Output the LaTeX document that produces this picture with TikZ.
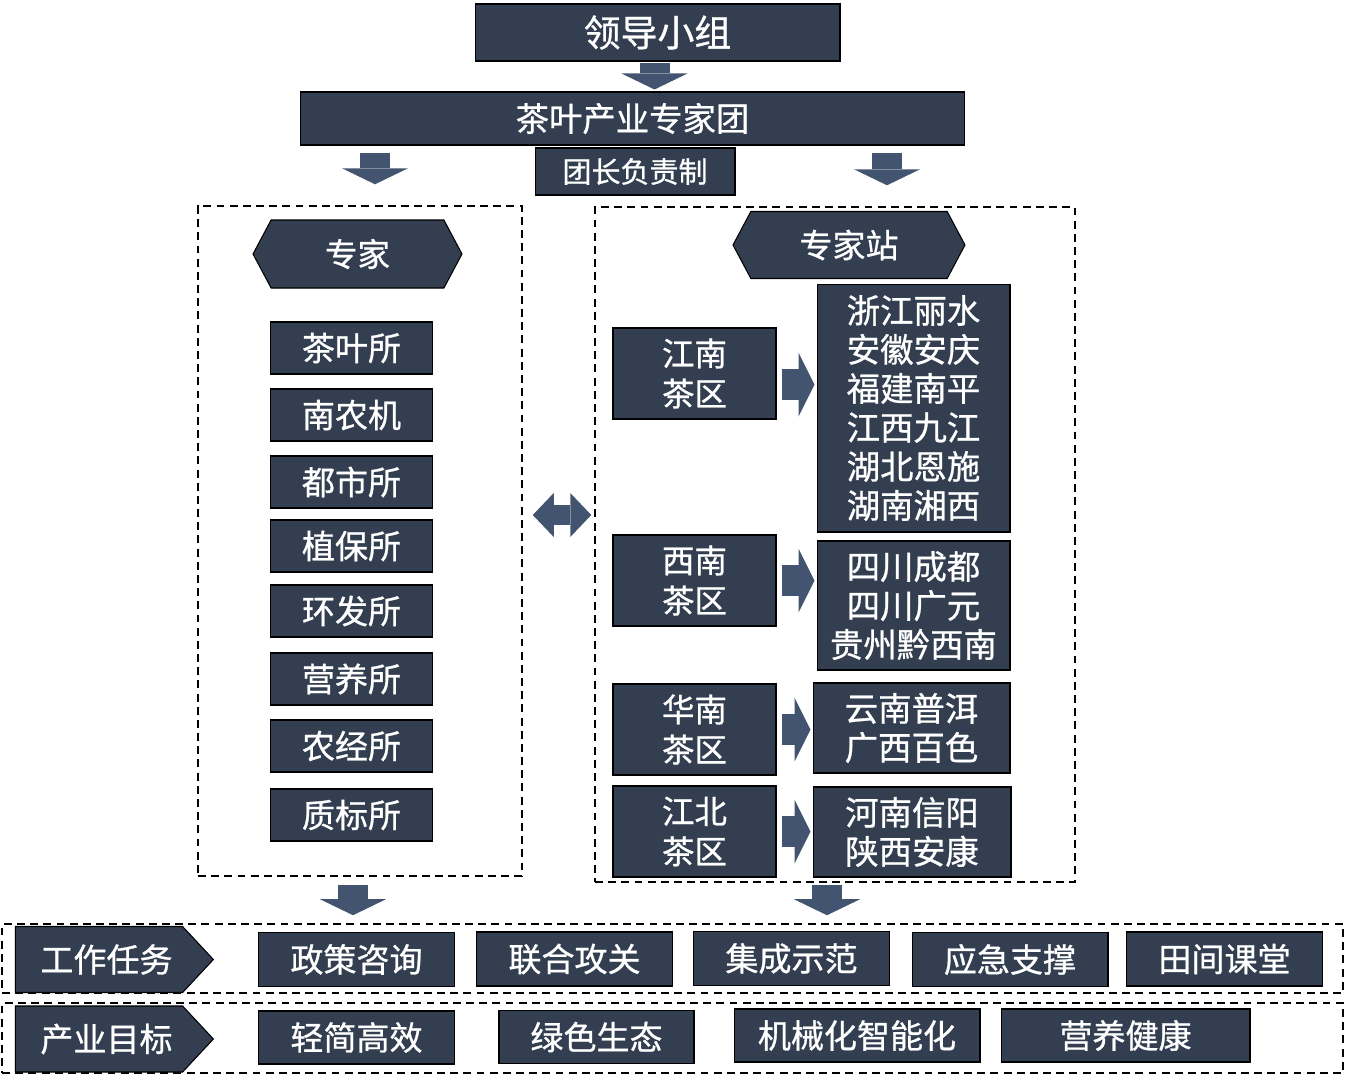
\documentclass[tikz,border=0pt]{standalone}
\usepackage{fontspec}
\setmainfont{Noto Sans CJK SC}[FakeBold=0.8]
\usepackage{xcolor}
\usepackage{tikz}
\usetikzlibrary{positioning, shapes.symbols, arrows.meta, calc}
\definecolor{teaNavy}{HTML}{333F50}
\definecolor{teaArrow}{HTML}{42546F}
\tikzset{
  darkbox/.style={
    rectangle, draw=black, line width=0.6pt,
    fill=teaNavy, text=white,
    inner sep=2pt, align=center
  },
  unitbox/.style={
    darkbox, minimum width=3.24cm, minimum height=1.04cm,
    font=\fontsize{18.8pt}{22pt}\selectfont
  },
  areabox/.style={
    darkbox, minimum width=3.26cm, minimum height=1.82cm,
    font=\fontsize{18.5pt}{22.8pt}\selectfont
  },
  sitebox/.style={
    darkbox, font=\fontsize{19pt}{22.2pt}\selectfont
  },
  taskbox/.style={
    darkbox, minimum width=3.92cm, minimum height=1.08cm,
    font=\fontsize{18.8pt}{22pt}\selectfont
  },
  hexbox/.style={
    darkbox, signal, signal to=west and east, signal from=nowhere,
    signal pointer angle=124,
    font=\fontsize{18.5pt}{22pt}\selectfont
  },
  tagbox/.style={
    darkbox, signal, signal to=east, signal from=nowhere,
    signal pointer angle=94, minimum width=3.96cm, minimum height=1.32cm,
    font=\fontsize{18.8pt}{22pt}\selectfont
  },
  dashframe/.style={
    draw=black, line width=0.9pt, dash pattern=on 4.5pt off 3pt
  },
  blockdown/.style={
    teaArrow, line width=0.6cm,
    -{Triangle[width=1.32cm, length=0.32cm, line width=0pt]}
  },
  blockright/.style={
    teaArrow, line width=0.62cm,
    -{Triangle[width=1.28cm, length=0.32cm, line width=0pt]}
  },
  blockboth/.style={
    teaArrow, line width=0.4cm,
    {Triangle[width=0.88cm, length=0.42cm, line width=0pt]}-{Triangle[width=0.88cm, length=0.42cm, line width=0pt]}
  }
}

\begin{document}
\begin{tikzpicture}[x=0.02cm, y=-0.02cm]
  \useasboundingbox (0,0) rectangle (1345,1079);
  % top of the chart
  \node[darkbox, minimum width=7.3cm, minimum height=1.14cm, font=\fontsize{21pt}{25pt}\selectfont] (lead) at (657.5,32.5) {领导小组};
  \node[darkbox, minimum width=13.3cm, minimum height=1.06cm, font=\fontsize{19pt}{23pt}\selectfont] (team) at (632.5,118.5) {茶叶产业专家团};
  \node[darkbox, minimum width=4cm, minimum height=0.94cm, font=\fontsize{16.5pt}{20pt}\selectfont] (chief) at (635,171.5) {团长负责制};
  \draw[blockdown, shorten <=0.02cm, shorten >=0.04cm] ($(lead.south)+(-3,0)$) -- ($(lead.south |- team.north)+(-3,0)$);

  % the two dashed groups
  \node[dashframe, minimum width=6.48cm, minimum height=13.4cm] (expfrm) at (360,541) {};
  \node[dashframe, minimum width=9.6cm, minimum height=13.5cm] (stafrm) at (835,544.5) {};
  \draw[blockdown, shorten <=0.14cm, shorten >=0.42cm] ($(team.south -| expfrm.north)+(15,0)$) -- ($(expfrm.north)+(15,0)$);
  \draw[blockdown, shorten <=0.14cm, shorten >=0.42cm] ($(team.south -| stafrm.north)+(52,0)$) -- ($(stafrm.north)+(52,0)$);
  \draw[blockboth, shorten <=0.2cm, shorten >=0.06cm] (expfrm.east |- 0,515) -- (stafrm.west |- 0,515);

  % experts
  \node[hexbox, minimum width=4.18cm, minimum height=1.36cm] (expert) at (357.5,254) {专家};
  \foreach \nm/\yy/\txt in {u1/348/茶叶所, u2/415/南农机, u3/482/都市所, u4/546/植保所,
                             u5/611/环发所, u6/679/营养所, u7/746/农经所, u8/815/质标所} {
    \node[unitbox] (\nm) at (351.5,\yy) {\txt};
  }

  % stations
  \node[hexbox, minimum width=4.64cm, minimum height=1.34cm, font=\fontsize{18.8pt}{22pt}\selectfont] (station) at (849,245) {专家站};
  \node[areabox] (jn) at (694.5,373.5) {江南\\茶区};
  \node[areabox] (xn) at (694.5,580.5) {西南\\茶区};
  \node[areabox] (hn) at (694.5,729.5) {华南\\茶区};
  \node[areabox] (jb) at (694.5,831.5) {江北\\茶区};
  \node[sitebox, minimum width=3.86cm, minimum height=4.96cm] (jnl) at (913.5,408) {浙江丽水\\安徽安庆\\福建南平\\江西九江\\湖北恩施\\湖南湘西};
  \node[sitebox, minimum width=3.86cm, minimum height=2.58cm] (xnl) at (913.5,605.5) {四川成都\\四川广元\\贵州黔西南};
  \node[sitebox, minimum width=3.94cm, minimum height=1.8cm] (hnl) at (911.5,728) {云南普洱\\广西百色};
  \node[sitebox, minimum width=3.96cm, minimum height=1.8cm] (jbl) at (912,832) {河南信阳\\陕西安康};
  \draw[blockright, shorten <=0.1cm, shorten >=0.04cm] ($(jn.east)+(0,11)$) -- ($(jn.east -| jnl.west)+(0,11)$);
  \foreach \a/\b in {xn/xnl, hn/hnl, jb/jbl} {
    \draw[blockright, shorten <=0.1cm, shorten >=0.04cm] (\a.east) -- (\a.east -| \b.west);
  }

  % tasks and goals
  \node[dashframe, minimum width=26.82cm, minimum height=1.38cm] (taskfrm) at (672.5,958.5) {};
  \node[dashframe, minimum width=26.82cm, minimum height=1.4cm] (goalfrm) at (672.5,1038) {};
  \draw[blockdown, shorten <=0.16cm, shorten >=0.16cm] ($(expfrm.south)+(-7,0)$) -- ($(expfrm.south |- taskfrm.north)+(-7,0)$);
  \draw[blockdown, shorten <=0.04cm, shorten >=0.16cm] ($(stafrm.south)+(-8,0)$) -- ($(stafrm.south |- taskfrm.north)+(-8,0)$);
  \node[tagbox] (task) at (99,959.5) {\hspace*{0.3cm}工作任务};
  \node[tagbox] (goal) at (99,1039) {\hspace*{0.3cm}产业目标};
  \node[taskbox] (t1) at (356.5,959.5) {政策咨询};
  \node[taskbox] (t2) at (574.5,959) {联合攻关};
  \node[taskbox] (t3) at (791.5,958.5) {集成示范};
  \node[taskbox] (t4) at (1010,959.5) {应急支撑};
  \node[taskbox] (t5) at (1224.5,959) {田间课堂};
  \node[taskbox, minimum height=1.06cm] (g1) at (356.5,1037.5) {轻简高效};
  \node[taskbox, minimum width=3.9cm, minimum height=1.06cm] (g2) at (596.5,1037) {绿色生态};
  \node[taskbox, minimum width=4.92cm, minimum height=1.06cm] (g3) at (857,1035.5) {机械化智能化};
  \node[taskbox, minimum width=4.98cm, minimum height=1.06cm] (g4) at (1125.5,1035.5) {营养健康};
\end{tikzpicture}
\end{document}
